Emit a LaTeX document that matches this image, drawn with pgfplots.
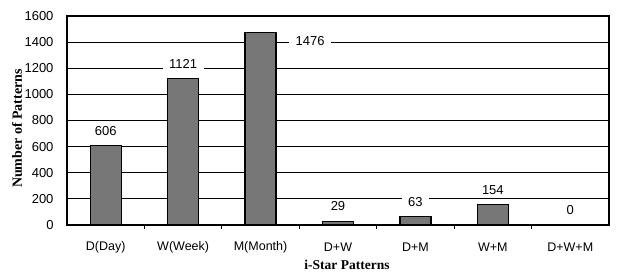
\documentclass[border=0pt]{standalone}
\usepackage{pgfplots}
\pgfplotsset{compat=1.18}
\usepackage{pgfplotstable}
\usepackage{fontspec}
\setmainfont{Liberation Sans}
\newfontfamily\tnr{Liberation Serif}
\definecolor{barfill}{RGB}{119,119,119}
\pgfplotstableread{
x y dx dy
0 606 0 15
1 1121 0 15
2 1476 49.5 -9
3 29 0 15
4 63 0 15
5 154 0 15
6 0 0 15
}\datatable
\begin{document}
\begin{tikzpicture}
\useasboundingbox (0,0) rectangle (617bp,273bp);
\begin{axis}[
  at={(67bp,48bp)}, anchor=south west,
  scale only axis, width=542bp, height=209bp,
  xmin=-0.5, xmax=6.5, ymin=0, ymax=1600,
  ytick={0,200,...,1600},
  xtick={0,...,6},
  xticklabels={D(Day),W(Week),M(Month),D+W,D+M,W+M,D+W+M},
  ymajorgrids, major grid style={black, line width=1bp},
  axis line style={line width=1.5bp},
  tick pos=left,
  major tick length=0pt,
  extra x ticks={0.5,1.5,...,5.5},
  extra x tick labels={},
  extra x tick style={grid=none, major tick length=4bp, tick style={black, line width=1.2bp}},
  /pgf/number format/.cd, 1000 sep={}, assume math mode=true, /pgfplots/.cd,
  y tick label style={xshift=-10bp, font=\fontsize{13bp}{15bp}\selectfont},
  x tick label style={anchor=center, yshift=-22bp, font=\fontsize{12.5bp}{15bp}\selectfont},
  xlabel={i-Star Patterns},
  ylabel={Number of Patterns},
  every axis x label/.style={at={(axis description cs:0.5,0)}, anchor=center, yshift=-40bp, xshift=9bp, font=\tnr\bfseries\fontsize{13.5bp}{15bp}\selectfont},
  every axis y label/.style={at={(axis description cs:0,0.5)}, anchor=center, rotate=90, yshift=50bp, xshift=-8bp, font=\tnr\bfseries\fontsize{14bp}{15bp}\selectfont},
  ybar, bar width=31bp,
]
\addplot[fill=barfill, draw=black, line width=1.2bp,
  visualization depends on={\thisrow{dx} \as \dx},
  visualization depends on={\thisrow{dy} \as \dy},
  nodes near coords, point meta=explicit,
  nodes near coords style={anchor=center, fill=white, inner xsep=6.5bp, inner ysep=3bp,
    xshift=\dx bp, yshift=\dy bp, font=\fontsize{13bp}{15bp}\selectfont}]
  table[x=x, y=y, meta=y] {\datatable};
\end{axis}
\end{tikzpicture}
\end{document}
